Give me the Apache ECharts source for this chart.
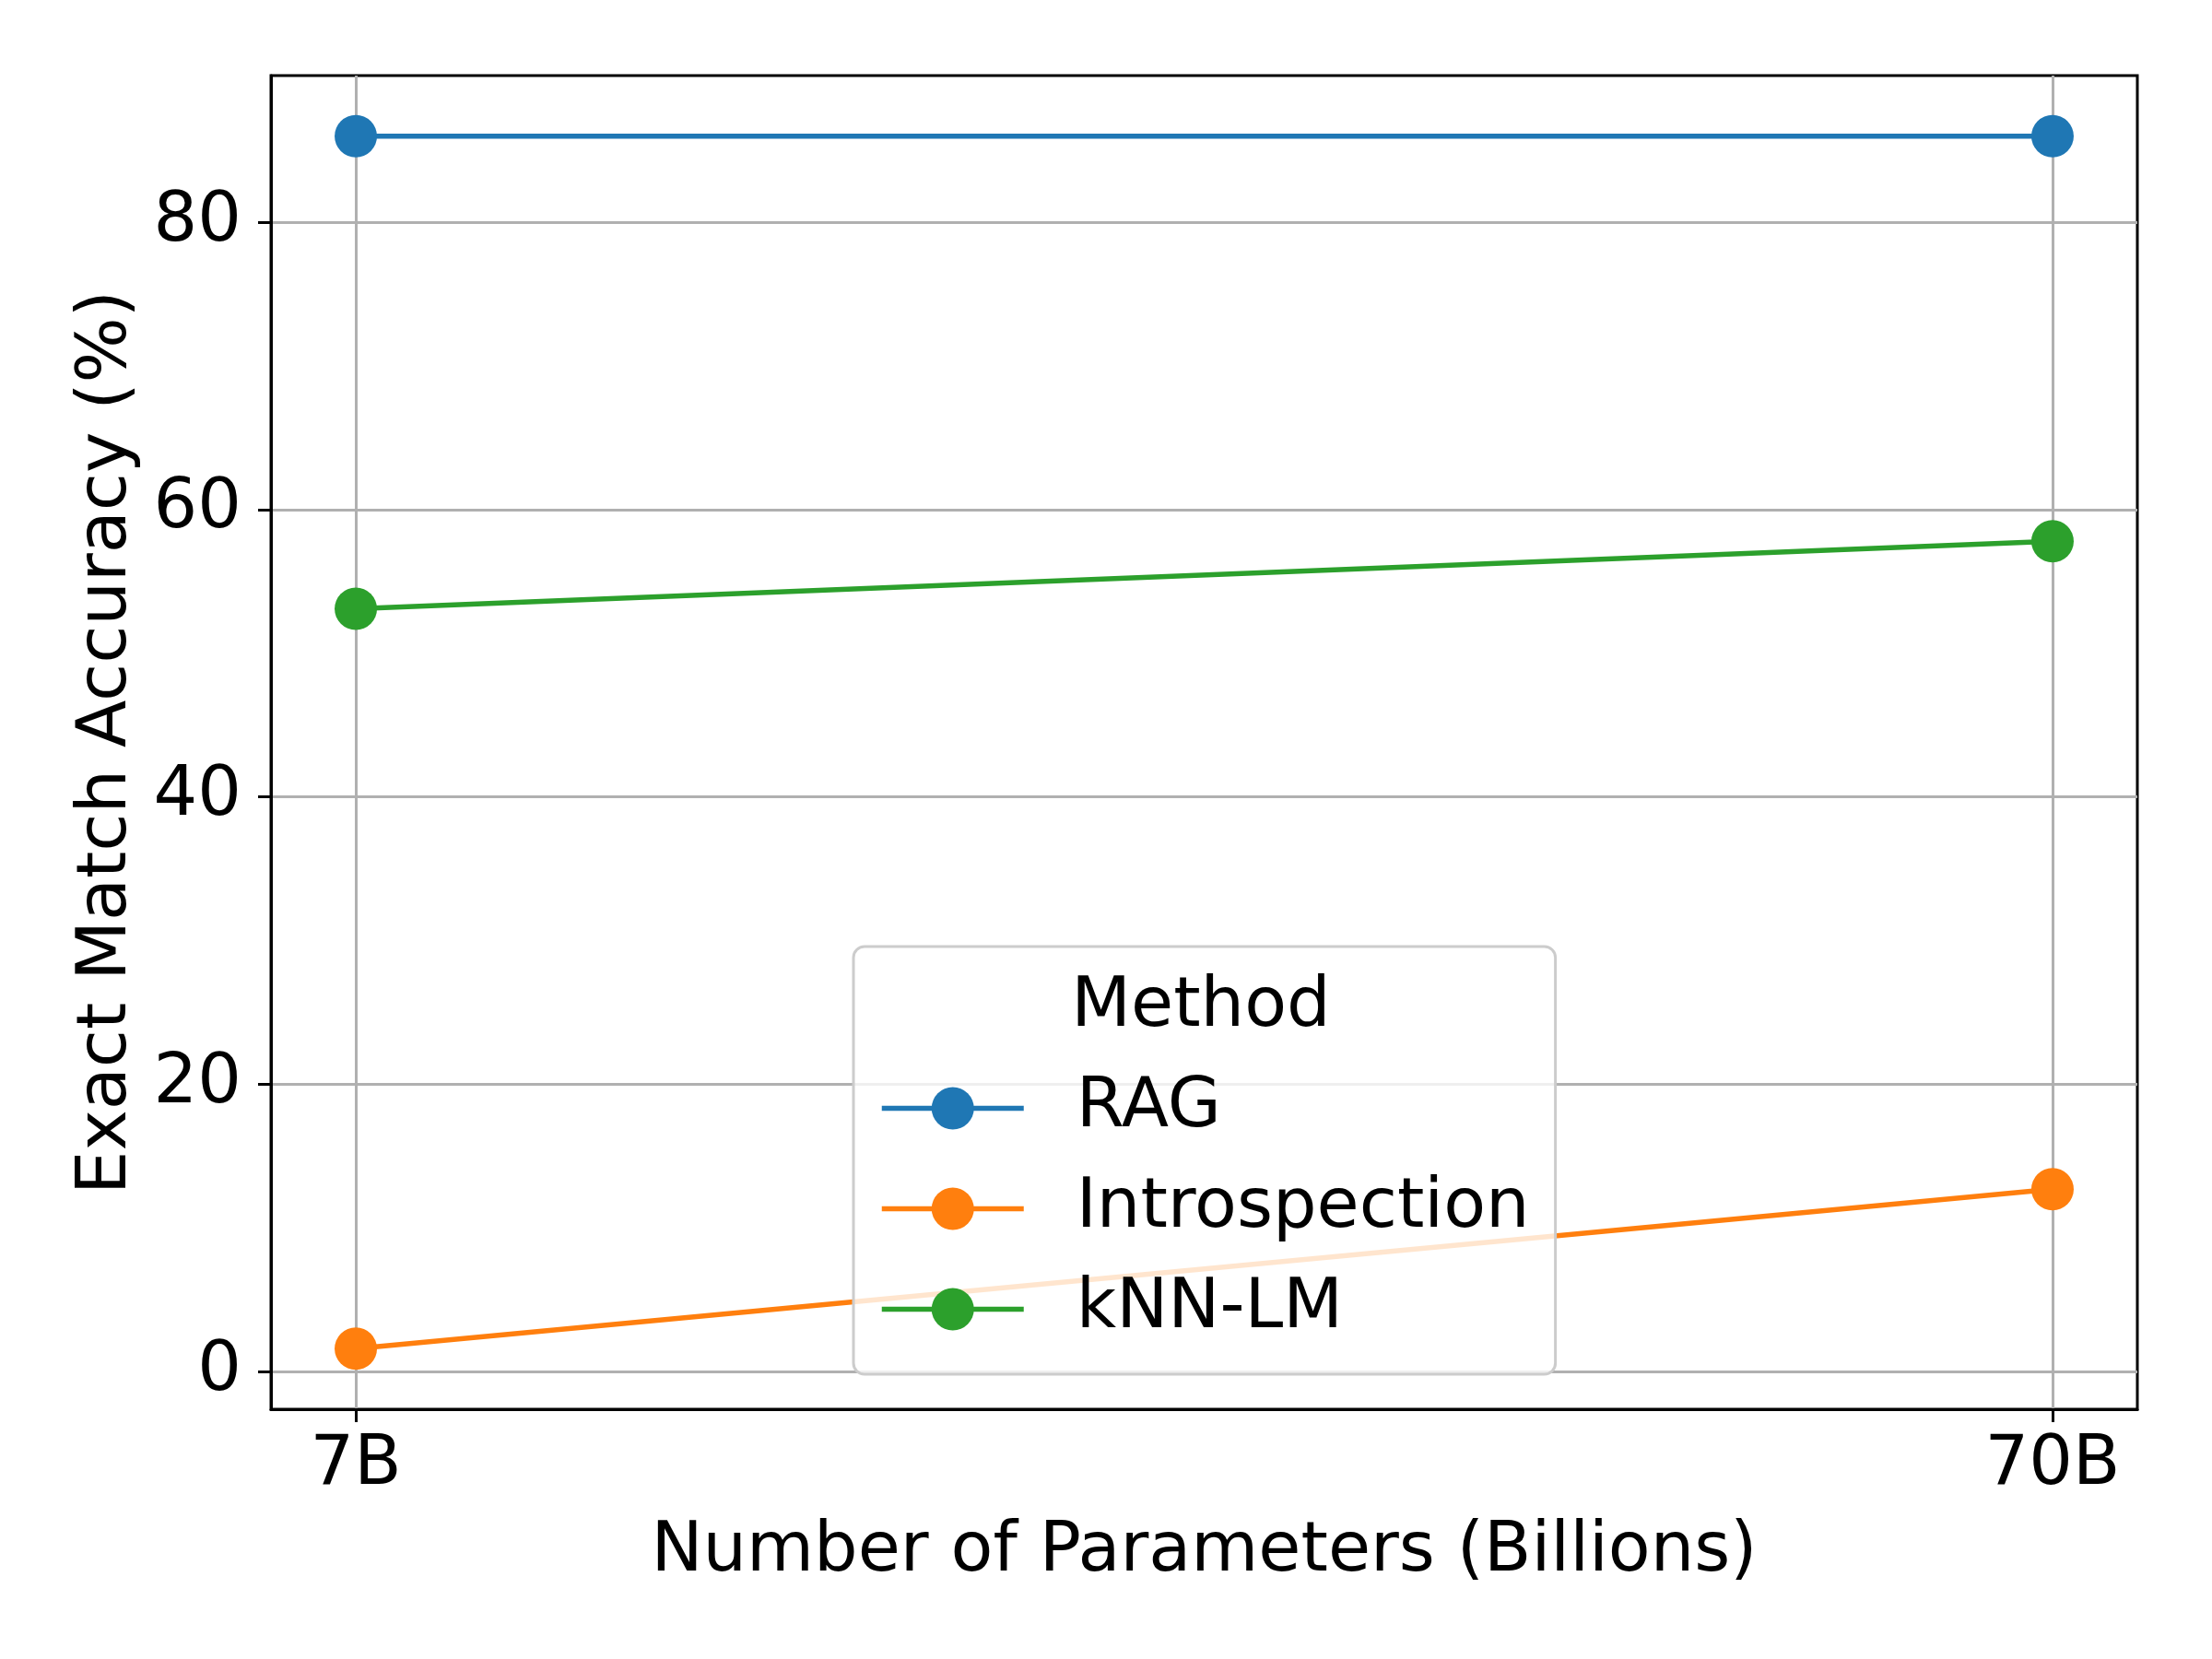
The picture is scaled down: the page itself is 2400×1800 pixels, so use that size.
<!DOCTYPE html>
<html>
<head>
<meta charset="utf-8">
<script src="https://cdn.jsdelivr.net/npm/echarts@6/dist/echarts.min.js"></script>
<style>
html,body{margin:0;padding:0;background:#fff;}
#chart{width:2400px;height:1800px;}
</style>
</head>
<body>
<div id="chart"></div>
<script>
const categories = ['7B', '70B'];
const seriesNames = ['RAG', 'Introspection', 'kNN-LM'];
const rag = [86.0, 86.0];
const introspection = [1.6, 12.7];
const knnlm = [53.1, 57.8];
const yTicks = [0, 20, 40, 60, 80];
const colors = ['#1f77b4', '#ff7f0e', '#2ca02c'];

const FONT = 'DejaVu Sans';
const FS = 75;
const xIdx = categories.map((c, i) => i);

function mk(name, vals, color) {
  return {
    name: name,
    type: 'line',
    data: vals.map((v, i) => [i, v]),
    symbol: 'circle',
    symbolSize: 46,
    showSymbol: true,
    lineStyle: { color: color, width: 5.5 },
    itemStyle: { color: color },
    emphasis: { disabled: true },
    animation: false
  };
}

const chart = echarts.init(document.getElementById('chart'), null, { renderer: 'canvas' });
chart.setOption({
  animation: false,
  backgroundColor: '#ffffff',
  textStyle: { fontFamily: FONT },
  grid: {
    left: 294, top: 82, width: 2025, height: 1447,
    show: true, borderColor: '#000000', borderWidth: 3, backgroundColor: 'transparent'
  },
  title: {
    text: 'Method',
    left: 1303, top: 1056, textAlign: 'center', padding: 0,
    textStyle: { fontFamily: FONT, fontSize: FS, fontWeight: 'normal', color: '#000', lineHeight: 75 },
    z: 10
  },
  legend: {
    data: seriesNames,
    orient: 'vertical',
    left: 926, top: 1027,
    padding: [138, 28, 33, 28],
    itemWidth: 154, itemHeight: 57.5, itemGap: 34,
    backgroundColor: 'rgba(255,255,255,0.8)',
    borderColor: '#cccccc', borderWidth: 3, borderRadius: 12,
    lineStyle: { width: 5.5 },
    textStyle: { fontFamily: FONT, fontSize: FS, color: '#000', padding: [0, 0, 0, 52] },
    selectedMode: false,
    z: 8
  },
  xAxis: {
    type: 'value',
    min: -0.05, max: 1.05,
    name: 'Number of Parameters (Billions)',
    nameLocation: 'middle',
    nameGap: 118,
    nameTextStyle: { fontFamily: FONT, fontSize: FS, color: '#000' },
    axisLine: { show: true, onZero: false, lineStyle: { color: '#000', width: 3 } },
    axisTick: { show: true, inside: false, length: 14, customValues: xIdx, lineStyle: { color: '#000', width: 3 } },
    axisLabel: { show: true, customValues: xIdx, margin: 24, fontFamily: FONT, fontSize: FS, color: '#000',
      formatter: v => categories[Math.round(v)] },
    splitLine: { show: true, lineStyle: { color: '#b0b0b0', width: 3 } }
  },
  yAxis: {
    type: 'value',
    min: -2.62, max: 90.22,
    name: 'Exact Match Accuracy (%)',
    nameLocation: 'middle',
    nameRotate: 90,
    nameGap: 140,
    nameTextStyle: { fontFamily: FONT, fontSize: FS, color: '#000' },
    axisLine: { show: true, onZero: false, lineStyle: { color: '#000', width: 3 } },
    axisTick: { show: true, inside: false, length: 14, customValues: yTicks, lineStyle: { color: '#000', width: 3 } },
    axisLabel: { show: true, customValues: yTicks, margin: 32, fontFamily: FONT, fontSize: FS, color: '#000' },
    splitLine: { show: true, lineStyle: { color: '#b0b0b0', width: 3 } }
  },
  series: [
    mk(seriesNames[0], rag, colors[0]),
    mk(seriesNames[1], introspection, colors[1]),
    mk(seriesNames[2], knnlm, colors[2])
  ]
});
</script>
</body>
</html>
